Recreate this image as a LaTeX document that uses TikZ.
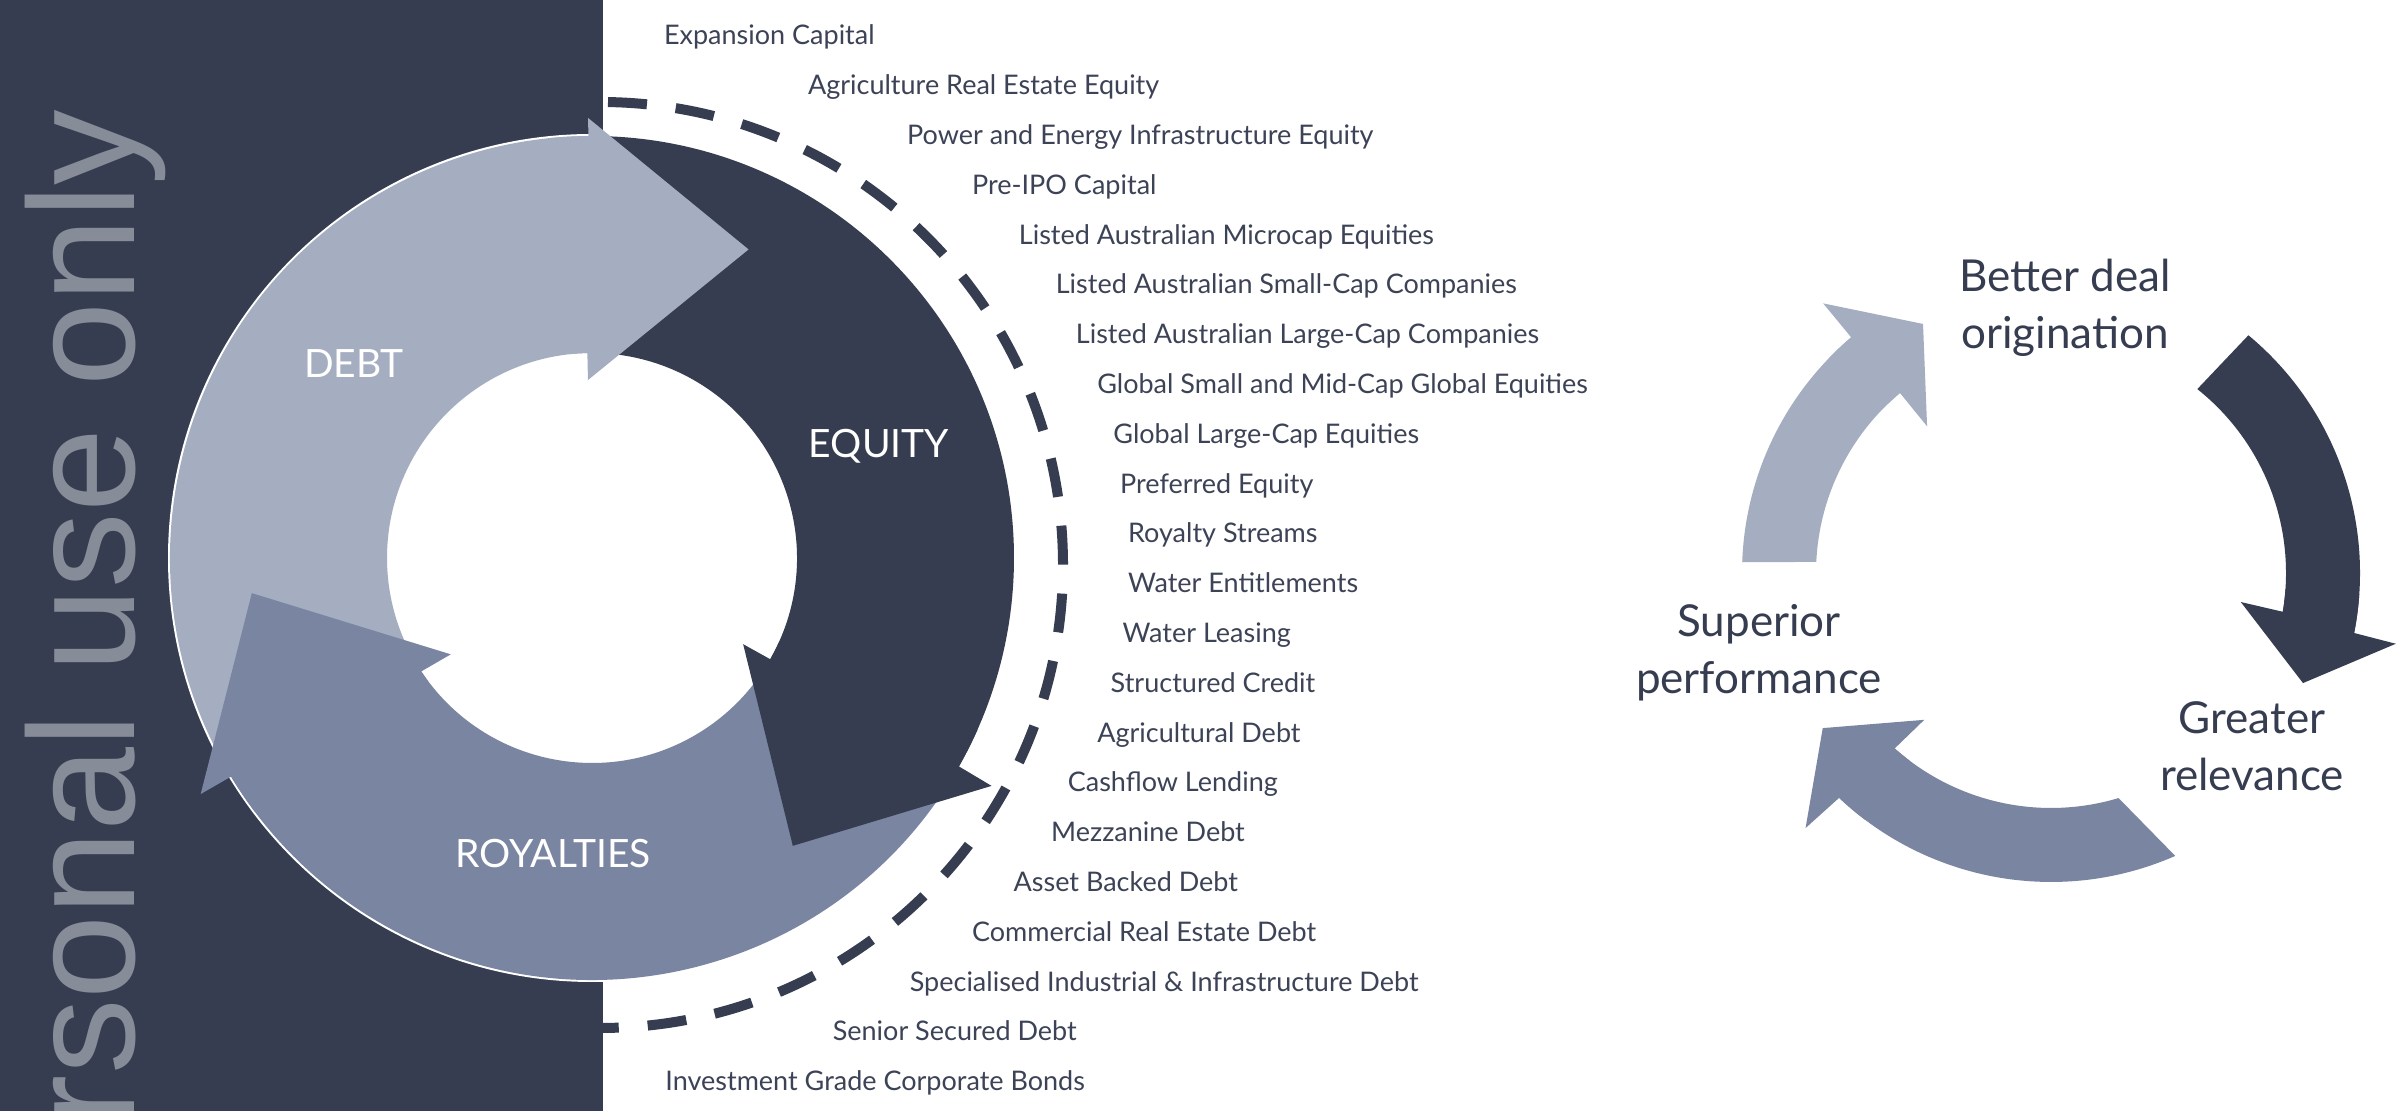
\documentclass[tikz,border=0pt]{standalone}
\usepackage{fontspec}
\setmainfont{Lato}
\newfontfamily\wmfont{Liberation Sans}
\usepackage{tikz}
\usetikzlibrary{positioning}
\definecolor{slate}{HTML}{373D50}
\definecolor{debtgrey}{HTML}{A5AEC1}
\definecolor{royblue}{HTML}{7A85A2}
\definecolor{listgrey}{HTML}{3D4356}
\definecolor{wmgrey}{HTML}{878C99}
\tikzset{RING style/.style={x=0.5pt,y=0.5pt},
	list item/.style={anchor=base west,inner sep=0,text=listgrey,font=\fontsize{13.5}{16}\selectfont},
	ring label/.style={anchor=base,inner sep=0,text=white,font=\fontsize{19.5}{23}\selectfont},
	cycle label/.style={anchor=north,inner sep=0,align=center,text=slate,font=\fontsize{22}{28.5}\selectfont}}
% colour, outer radius, inner radius, outer start/end, inner start/end
\newcommand{\band}[7]{\fill[#1] (#4:#2) arc[start angle=#4,end angle=#5,radius=#2]
	-- (#7:#3) arc[start angle=#7,end angle=#6,radius=#3] -- cycle;}
% colour, radii, back angle, outer/inner base angle, outer barb, tip, inner barb
\newcommand{\bandhead}[9]{\fill[#1] (#4:#2) arc[start angle=#4,end angle=#5,radius=#2]
	-- (#7) -- (#8) -- (#9) -- (#6:#3) arc[start angle=#6,end angle=#4,radius=#3] -- cycle;}

\begin{document}
\begin{tikzpicture}[RING style]
	\useasboundingbox (0,0) rectangle (2407,1111);
	\fill[white] (0,0) rectangle (2407,1111);
	\fill[slate] (0,0) rectangle (603,1111);
	\begin{scope}
		\clip (0,0) rectangle (603,1111);
		\node[rotate=90,anchor=base east,inner sep=0,text=wmgrey,
		font=\wmfont\fontsize{75.5}{90}\selectfont] (watermark) at (134,1002) {rsonal use only};
	\end{scope}
	
	\draw[slate,line width=5pt,dash pattern=on 19.5pt off 14.5pt,dash phase=30pt]
	(600,1009) arc[start angle=90,end angle=-90,radius=463];
	
	\begin{scope}[shift={(592,553)}]
		\fill[white] (0,0) circle[radius=424];
		\band{debtgrey}{422}{205}{211.2}{90.5}{213.6}{91.3}
		\band{slate}{422}{205}{90.5}{-29.6}{91.3}{-29.6}
		\band{royblue}{422}{205}{-29.6}{-148.8}{-29.6}{-146.4}
		\bandhead{debtgrey}{422}{205}{96}{90.5}{91.3}{90.5:440}{63.1:346}{91.3:178}
		\bandhead{slate}{422}{205}{-24}{-29.6}{-29.6}{-29.7:460}{-55.1:351}{-29.7:174}
		\bandhead{royblue}{422}{205}{-143}{-148.8}{-146.4}{211.1:457}{185.9:342}{214.3:171}
		
		\node[ring label] (debt) at (-238,180) {DEBT};
		\node[ring label] (equity) at (287,100) {EQUITY};
		\node[ring label] (royalties) at (-39,-310) {ROYALTIES};
	\end{scope}
	
	\node[list item] (expansion) at (663.6,1066.0) {Expansion Capital};
	\node[list item] (agrieq) at (807.6,1016.2) {Agriculture Real Estate Equity};
	\node[list item] (power) at (906.7,966.4) {Power and Energy Infrastructure Equity};
	\node[list item] (preipo) at (971.7,916.6) {Pre-IPO Capital};
	\node[list item] (microcap) at (1018.5,866.8) {Listed Australian Microcap Equities};
	\node[list item] (smallcap) at (1055.4,817.0) {Listed Australian Small-Cap Companies};
	\node[list item] (largecap) at (1075.5,767.2) {Listed Australian Large-Cap Companies};
	\node[list item] (globsmall) at (1096.9,717.4) {Global Small and Mid-Cap Global Equities};
	\node[list item] (globlarge) at (1113.0,667.6) {Global Large-Cap Equities};
	\node[list item] (preferred) at (1119.7,617.8) {Preferred Equity};
	\node[list item] (royalty) at (1127.7,568.0) {Royalty Streams};
	\node[list item] (waterent) at (1127.7,518.2) {Water Entitlements};
	\node[list item] (waterlease) at (1122.3,468.4) {Water Leasing};
	\node[list item] (structured) at (1110.3,418.6) {Structured Credit};
	\node[list item] (agridebt) at (1096.9,368.8) {Agricultural Debt};
	\node[list item] (cashflow) at (1067.4,319.0) {Cashflow Lending};
	\node[list item] (mezz) at (1050.7,269.2) {Mezzanine Debt};
	\node[list item] (assetback) at (1013.2,219.4) {Asset Backed Debt};
	\node[list item] (commercial) at (971.7,169.6) {Commercial Real Estate Debt};
	\node[list item] (special) at (909.4,119.8) {Specialised Industrial \& Infrastructure Debt};
	\node[list item] (senior) at (832.4,70.0) {Senior Secured Debt};
	\node[list item] (invgrade) at (665.0,20.2) {Investment Grade Corporate Bonds};
	
	% right hand cycle
	\begin{scope}[shift={(2051,538)}]
		\band{debtgrey}{309}{235}{178}{130.3}{177.3}{130}
		\band{slate}{309}{235}{50.3}{-11.2}{51.5}{-9.5}
		\band{royblue}{309}{235}{-66.3}{-133.3}{-73.3}{-131.7}
		\bandhead{debtgrey}{309}{235}{136}{130.3}{130}{130.2:353}{117.2:280}{130.2:192}
		\bandhead{slate}{309}{235}{-4}{-11.2}{-9.5}{-11.6:352}{-23.6:275}{-8.7:192}
		\bandhead{royblue}{309}{235}{-127}{-133.3}{-131.7}{-133.9:354}{-145.8:276}{-130.8:194}
	\end{scope}
	
	\node[cycle label] (origination) at (2065,852) {Better deal\\origination};
	\node[cycle label] (relevance) at (2252,410) {Greater\\relevance};
	\node[cycle label] (performance) at (1759,507) {Superior\\performance};
\end{tikzpicture}
\end{document}
